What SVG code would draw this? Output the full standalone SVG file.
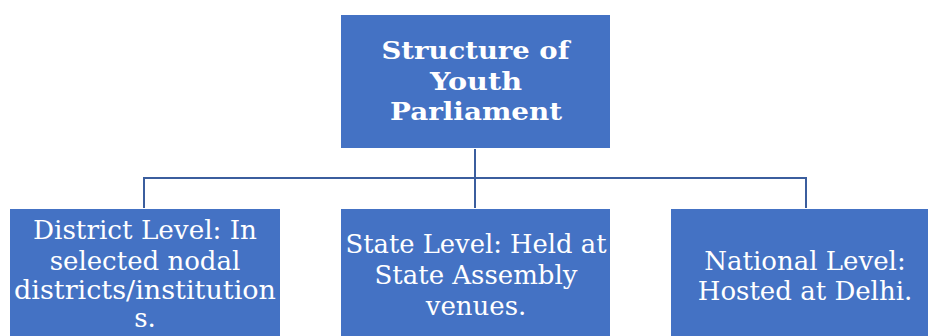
<svg xmlns="http://www.w3.org/2000/svg" width="928" height="336" viewBox="0 0 928 336">
<style>
.box{fill:#4472C4;stroke:#ffffff;stroke-width:1}
.t{font-family:"DejaVu Serif","Liberation Serif",serif;fill:#ffffff;text-anchor:middle}
.title{font-size:25px;font-weight:bold}
.body{font-size:26px}
.conn{fill:none;stroke:#3B5E9E;stroke-width:2}
</style>
<rect width="928" height="336" fill="#ffffff"/>
<g id="connectors">
<path class="conn" d="M475 149 V178 M144 178 H806 M144 177 V208 M475 178 V208 M806 177 V208"/>
</g>
<g id="root">
<rect class="box" x="340.5" y="14.5" width="270" height="134"/>
<text class="t title" x="475.5" y="59" textLength="188" lengthAdjust="spacingAndGlyphs">Structure of</text>
<text class="t title" x="476" y="89.5" textLength="92" lengthAdjust="spacingAndGlyphs">Youth</text>
<text class="t title" x="476" y="120" textLength="172" lengthAdjust="spacingAndGlyphs">Parliament</text>
</g>
<g id="district">
<rect class="box" x="9.5" y="208.5" width="271" height="130"/>
<text class="t body" x="145" y="239" textLength="224" lengthAdjust="spacingAndGlyphs">District Level: In</text>
<text class="t body" x="145" y="270">selected nodal</text>
<text class="t body" x="145" y="299" textLength="262" lengthAdjust="spacingAndGlyphs">districts/institution</text>
<text class="t body" x="145" y="327">s.</text>
</g>
<g id="state">
<rect class="box" x="340.5" y="208.5" width="270" height="130"/>
<text class="t body" x="476" y="253" textLength="261" lengthAdjust="spacingAndGlyphs">State Level: Held at</text>
<text class="t body" x="476" y="284">State Assembly</text>
<text class="t body" x="476" y="315">venues.</text>
</g>
<g id="national">
<rect class="box" x="670.5" y="208.5" width="262" height="130"/>
<text class="t body" x="805" y="270">National Level:</text>
<text class="t body" x="805" y="300">Hosted at Delhi.</text>
</g>
</svg>
